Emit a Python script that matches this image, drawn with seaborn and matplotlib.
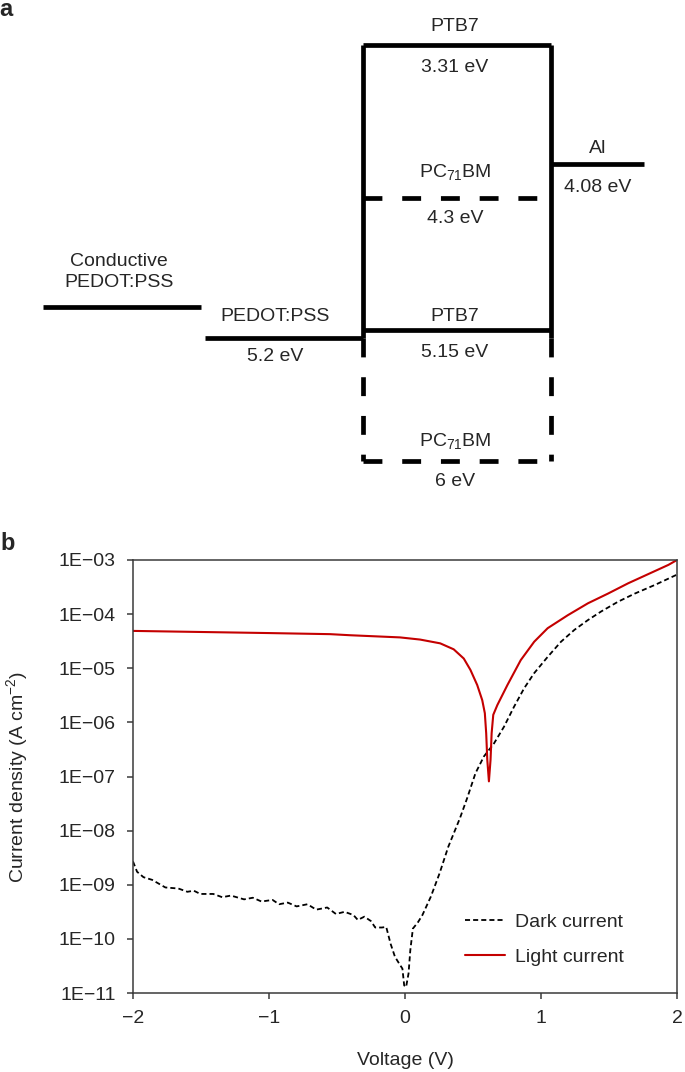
import matplotlib
matplotlib.use('Agg')
import matplotlib.pyplot as plt
import numpy as np
import pandas as pd
import seaborn as sns
from matplotlib.ticker import NullLocator

# energy levels (eV) for panel a
cond_pedot_e = 5.0
pedot_e = 5.2
ptb7_e = [3.31, 5.15]      # LUMO, HOMO
pcbm_e = [4.3, 6.0]        # LUMO, HOMO
al_e = 4.08

# J-V curves for panel b (log10 of current density, A cm-2)
dark_v = [-2.0, -1.97, -1.923, -1.859, -1.762, -1.666, -1.6, -1.553, -1.505, -1.41,
          -1.344, -1.28, -1.183, -1.119, -1.055, -0.974, -0.926, -0.862, -0.797, -0.717,
          -0.653, -0.572, -0.508, -0.444, -0.379, -0.347, -0.299, -0.251, -0.219, -0.17,
          -0.138, -0.106, -0.074, -0.042, -0.019, -0.006, 0.008, 0.026, 0.039, 0.058,
          0.096, 0.128, 0.19, 0.254, 0.318, 0.404, 0.457, 0.518, 0.58, 0.654,
          0.728, 0.802, 0.876, 0.95, 1.049, 1.147, 1.246, 1.345, 1.443, 1.567,
          1.69, 1.838, 2.0]
dark_logj = [-8.57, -8.76, -8.86, -8.91, -9.05, -9.07, -9.13, -9.11, -9.17, -9.17,
             -9.23, -9.2, -9.27, -9.24, -9.31, -9.28, -9.36, -9.33, -9.4, -9.36,
             -9.46, -9.42, -9.54, -9.5, -9.56, -9.65, -9.59, -9.67, -9.79, -9.79,
             -9.78, -10.09, -10.33, -10.46, -10.55, -10.86, -10.89, -10.64, -10.21, -9.81,
             -9.69, -9.56, -9.22, -8.79, -8.3, -7.77, -7.4, -6.94, -6.63, -6.39,
             -6.08, -5.71, -5.37, -5.09, -4.79, -4.51, -4.29, -4.11, -3.95, -3.77,
             -3.62, -3.46, -3.27]

light_v = [-2.0, -1.5, -1.0, -0.551, -0.404, -0.037, 0.111, 0.259, 0.358, 0.432,
           0.481, 0.531, 0.568, 0.587, 0.597, 0.605, 0.617, 0.629, 0.637, 0.649,
           0.679, 0.753, 0.851, 0.95, 1.049, 1.197, 1.345, 1.493, 1.641, 1.789,
           1.937, 2.0]
light_logj = [-4.31, -4.33, -4.35, -4.37, -4.39, -4.43, -4.47, -4.54, -4.65, -4.82,
              -5.03, -5.31, -5.59, -5.83, -6.2, -6.69, -7.09, -6.69, -6.2, -5.86,
              -5.68, -5.31, -4.85, -4.51, -4.26, -4.02, -3.8, -3.62, -3.43, -3.26,
              -3.09, -3.0]

y_exps = list(range(-11, -2))
x_ticks = [-2, -1, 0, 1, 2]

sns.set_style('ticks')
plt.rcParams['font.family'] = ['Liberation Sans', 'DejaVu Sans']
plt.rcParams['mathtext.fontset'] = 'custom'
plt.rcParams['mathtext.rm'] = 'Liberation Sans'
plt.rcParams['mathtext.it'] = 'Liberation Sans:italic'

W, H = 685, 1072
fig = plt.figure(figsize=(W / 100, H / 100), dpi=100)
fs = 14

# ---------- panel a: energy diagram ----------
ax_a = fig.add_axes([0, 0.5, 1, 0.5])
ax_a.set_xlim(0, W)
ax_a.set_ylim(6.482, 3.019)
ax_a.axis('off')
lw = 3.4
dash = (0, (4, 4.2))
xl, xr = 363, 551
ax_a.hlines(cond_pedot_e, 43, 201, color='black', lw=lw)
ax_a.hlines(pedot_e, 205, xl, color='black', lw=lw)
ax_a.hlines(ptb7_e, xl, xr, color='black', lw=lw)
ax_a.vlines([xl, xr], ptb7_e[0], pedot_e, color='black', lw=lw)
ax_a.vlines([xl, xr], pedot_e, pcbm_e[1], color='black', lw=lw, linestyles=[dash])
ax_a.hlines(pcbm_e, xl, xr, color='black', lw=lw, linestyles=[dash])
ax_a.hlines(al_e, xr, 644, color='black', lw=lw)


def lab(txt, x, e, dy, **kw):
    ax_a.annotate(txt, (x, e), xytext=(0, dy), textcoords='offset points',
                  ha='center', va='center', fontsize=fs, **kw)


def ev(e):
    return f'{e:g} eV'


cx = 455
lab('PTB7', cx, ptb7_e[0], 13)
lab(ev(ptb7_e[0]), cx, ptb7_e[0], -16)
lab('PC$_{71}$BM', cx, pcbm_e[0], 19)
lab(ev(pcbm_e[0]), cx, pcbm_e[0], -14.5)
lab('Al', 598, al_e, 11.5)
lab(ev(al_e), 598, al_e, -17)
lab('Conductive\nPEDOT:PSS', 119, cond_pedot_e, 25, linespacing=1.25)
lab('PEDOT:PSS', 275, pedot_e, 15)
lab(ev(pedot_e), 275, pedot_e, -13.7)
lab('PTB7', cx, ptb7_e[1], 9.4)
lab(ev(ptb7_e[1]), cx, ptb7_e[1], -16)
lab('PC$_{71}$BM', cx, pcbm_e[1], 15)
lab(ev(pcbm_e[1]), cx, pcbm_e[1], -14.4)

# ---------- panel b: J-V ----------
ax_b = fig.add_axes([133 / W, 1 - 993 / H, 544 / W, 433 / H])
ax_b.set_yscale('log')
df_dark = pd.DataFrame({'V': dark_v, 'J': 10.0 ** np.array(dark_logj)})
df_light = pd.DataFrame({'V': light_v, 'J': 10.0 ** np.array(light_logj)})
sns.lineplot(data=df_dark, x='V', y='J', ax=ax_b, color='black', lw=1.3,
             linestyle=(0, (2.8, 1.7)), estimator=None, label='Dark current')
sns.lineplot(data=df_light, x='V', y='J', ax=ax_b, color='#c40000', lw=1.5,
             estimator=None, label='Light current')
ax_b.set_xlim(-2, 2)
ax_b.set_ylim(1e-11, 1e-3)
ax_b.set_yticks([10.0 ** e for e in y_exps])
ax_b.set_yticklabels([f'1E\u2212{abs(e):02d}' for e in y_exps])
ax_b.yaxis.set_minor_locator(NullLocator())
ax_b.set_xticks(x_ticks)
ax_b.set_xticklabels([f'\u2212{abs(t)}' if t < 0 else str(t) for t in x_ticks])
for s in ax_b.spines.values():
    s.set_visible(True)
    s.set_color('#3a3a3a')
    s.set_linewidth(1.1)
ax_b.tick_params(direction='out', length=4.5, width=1.1, color='#3a3a3a',
                 labelsize=fs, pad=8)
ax_b.set_xlabel('Voltage (V)', fontsize=fs)
ax_b.set_ylabel('Current density (A cm$^{-2}$)', fontsize=fs)
ax_b.xaxis.set_label_coords(0.5, -0.137)
ax_b.yaxis.set_label_coords(-0.19, 0.5)
ax_b.legend(loc='lower right', bbox_to_anchor=(0.917, 0.044), borderaxespad=0,
            frameon=False, fontsize=fs, handlelength=2.1, labelspacing=0.9,
            handletextpad=0.5)

fig.text(6 / W, 1 - 10 / H, 'a', fontsize=17, fontweight='bold', ha='center', va='center')
fig.text(8 / W, 1 - 543 / H, 'b', fontsize=17, fontweight='bold', ha='center', va='center')

fig.savefig('out.png', dpi=100)
